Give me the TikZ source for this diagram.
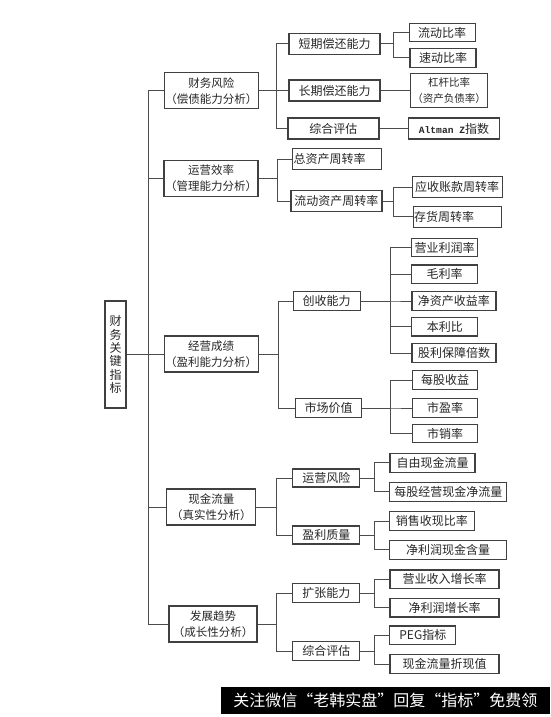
\documentclass[tikz,border=0pt]{standalone}
\usepackage{fontspec}
\setmainfont{Noto Sans CJK SC}
\newfontfamily\latinmono{Liberation Mono}
\tikzstyle{kbox}=[rectangle,draw=black!75,line width=1.2pt,text=black!85,inner sep=1pt,font=\fontsize{12}{14}\selectfont]
\tikzstyle{lone}=[kbox,minimum width=89pt,minimum height=36pt,align=center,font=\fontsize{11.5}{16}\selectfont]
\tikzstyle{leaf}=[kbox,minimum height=18.5pt]
\tikzstyle{link}=[draw=black!70,line width=1pt]

\begin{document}
\begin{tikzpicture}[x=1pt,y=-1pt]
\useasboundingbox (0,0) rectangle (550,717);
\node[kbox,minimum width=21pt,minimum height=107pt,align=center,font=\fontsize{12}{13.3}\selectfont] (root) at (115.5,354.5) {财\\务\\关\\键\\指\\标};
\node[lone] (cwfx) at (211.3,90.7) {财务风险\\（偿债能力分析）};
\node[lone] (yyxl) at (211,178.6) {运营效率\\（管理能力分析）};
\node[lone] (jycj) at (211.2,354) {经营成绩\\（盈利能力分析）};
\node[lone] (xjll) at (211.3,507) {现金流量\\（真实性分析）};
\node[lone,minimum width=88pt] (fzqs) at (213,624) {发展趋势\\（成长性分析）};
\node[kbox,minimum width=91pt,minimum height=21pt] (dqch) at (334.5,43.7) {短期偿还能力};
\node[kbox,minimum width=91pt,minimum height=21pt] (cqch) at (334.5,90.5) {长期偿还能力};
\node[kbox,minimum width=91pt,minimum height=21pt] (zhpga) at (333.4,128.5) {综合评估};
\node[kbox,text width=87pt,minimum height=21pt,align=left] (zzc) at (337,159.3) {总资产周转率};
\node[kbox,minimum width=91pt,minimum height=21pt] (ldzc) at (336.4,201) {流动资产周转率};
\node[kbox,minimum width=67pt,minimum height=19pt] (csnl) at (326.7,301) {创收能力};
\node[kbox,minimum width=66pt,minimum height=19pt] (scjz) at (328.5,408) {市场价值};
\node[kbox,minimum width=67pt,minimum height=18pt] (yyfx) at (326.3,478) {运营风险};
\node[kbox,minimum width=67pt,minimum height=18pt] (ylzl) at (326.3,535) {盈利质量};
\node[kbox,minimum width=67pt,minimum height=19pt] (kznl) at (326.3,593.3) {扩张能力};
\node[kbox,minimum width=67pt,minimum height=19pt] (zhpgb) at (326.3,651.2) {综合评估};
\node[leaf,minimum width=66pt] (ldbl) at (442.2,32.5) {流动比率};
\node[leaf,minimum width=66pt] (sdbl) at (443,58) {速动比率};
\node[kbox,minimum width=77pt,minimum height=34pt,align=center,font=\fontsize{10.5}{16}\selectfont] (ggbl) at (449,90.5) {杠杆比率\\（资产负债率）};
\node[kbox,minimum width=91pt,minimum height=21pt] (altz) at (454,128.5) {{\latinmono\bfseries\fontsize{9.6}{12}\selectfont Altman Z}指数};
\node[kbox,minimum width=90pt,minimum height=21pt] (yszk) at (457.2,187.3) {应收账款周转率};
\node[kbox,text width=86pt,minimum height=21pt,align=left] (chzz) at (457.2,216.7) {存货周转率};
\node[leaf,minimum width=66pt] (yylr) at (444.7,247.5) {营业利润率};
\node[leaf,minimum width=66pt] (mll) at (444.7,274.2) {毛利率};
\node[leaf,minimum width=84pt] (jzc) at (453.9,301) {净资产收益率};
\node[leaf,minimum width=66pt] (blb) at (444.8,326.7) {本利比};
\node[leaf,minimum width=84pt] (glbz) at (454,353) {股利保障倍数};
\node[leaf,minimum width=65pt] (mgsy) at (445,380) {每股收益};
\node[leaf,minimum width=65pt] (syl) at (445,408) {市盈率};
\node[leaf,minimum width=65pt] (sxl) at (445,433.5) {市销率};
\node[kbox,minimum width=85pt,minimum height=19pt] (zyxj) at (432.5,462.8) {自由现金流量};
\node[kbox,minimum width=117pt,minimum height=19pt] (mgjy) at (448.3,491.7) {每股经营现金净流量};
\node[kbox,minimum width=85pt,minimum height=19pt] (xssx) at (431.8,521) {销售收现比率};
\node[kbox,minimum width=117pt,minimum height=19pt] (jlrxj) at (448,549.8) {净利润现金含量};
\node[leaf,minimum width=109pt] (yysr) at (444.5,579.2) {营业收入增长率};
\node[leaf,minimum width=109pt] (jlrzz) at (444.5,607.7) {净利润增长率};
\node[leaf,minimum width=66pt] (peg) at (422.8,635.2) {PEG指标};
\node[leaf,minimum width=109pt] (xjzx) at (444.5,664) {现金流量折现值};
\node[fill=black,text=white,minimum width=329.3pt,minimum height=27pt,inner sep=0pt,font=\fontsize{16}{18}\selectfont] (ad) at (385.35,700.5) {关注微信“老韩实盘”回复“指标”免费领};
\foreach \n in {cwfx,yyxl,jycj,xjll,fzqs} \draw[link] (root.east) -- ++(21.5,0) |- (\n.west);
\foreach \n in {dqch,cqch,zhpga} \draw[link] (cwfx.east) -- ++(18,0) |- (\n.west);
\foreach \n in {zzc,ldzc} \draw[link] (yyxl.east) -- ++(18.6,0) |- (\n.west);
\foreach \n in {csnl,scjz} \draw[link] (jycj.east) -- ++(20,0) |- (\n.west);
\foreach \n in {yyfx,ylzl} \draw[link] (xjll.east) -- ++(20,0) |- (\n.west);
\foreach \n in {kznl,zhpgb} \draw[link] (fzqs.east) -- ++(18.4,0) |- (\n.west);
\foreach \n in {ldbl,sdbl} \draw[link] (dqch.east) -- ++(12.7,0) |- (\n.west);
\draw[link] (cqch.east) -- (ggbl.west); \draw[link] (zhpga.east) -- (altz.west);
\foreach \n in {yszk,chzz} \draw[link] (ldzc.east) -- ++(11,0) |- (\n.west);
\foreach \n in {yylr,mll,jzc,blb,glbz} \draw[link] (csnl.east) -- ++(30,0) |- (\n.west);
\foreach \n in {mgsy,syl,sxl} \draw[link] (scjz.east) -- ++(28.3,0) |- (\n.west);
\foreach \n in {zyxj,mgjy} \draw[link] (yyfx.east) -- ++(14.3,0) |- (\n.west);
\foreach \n in {xssx,jlrxj} \draw[link] (ylzl.east) -- ++(14.3,0) |- (\n.west);
\foreach \n in {yysr,jlrzz} \draw[link] (kznl.east) -- ++(14.3,0) |- (\n.west);
\foreach \n in {peg,xjzx} \draw[link] (zhpgb.east) -- ++(14.3,0) |- (\n.west);
\end{tikzpicture}
\end{document}
